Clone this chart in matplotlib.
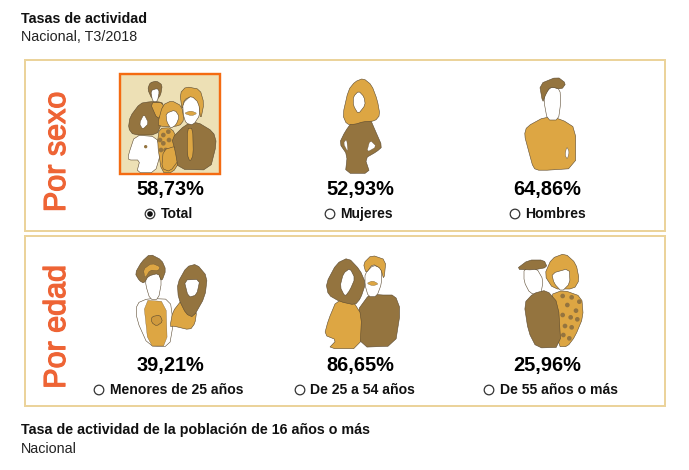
import matplotlib
matplotlib.use('Agg')
import matplotlib.pyplot as plt
import matplotlib.patheffects as pe
from matplotlib.patches import Polygon, Rectangle, Circle

plt.rcParams['font.family'] = ['Liberation Sans', 'DejaVu Sans']

# chart values
row_titles = ['Por sexo', 'Por edad']
sexo_labels = ['Total', 'Mujeres', 'Hombres']
sexo_values = [58.73, 52.93, 64.86]
edad_labels = ['Menores de 25 años', 'De 25 a 54 años', 'De 55 años o más']
edad_values = [39.21, 86.65, 25.96]

ORANGE = '#DDA643'
BROWN = '#94743F'
DARK = '#5A4930'
BORDER = '#EBD39B'
PX = 0.72  # px to pt at dpi 100

fig = plt.figure(figsize=(6.89, 4.70), dpi=100)
ax = fig.add_axes([0, 0, 1, 1])
ax.set_xlim(0, 689)
ax.set_ylim(470, 0)
ax.axis('off')


def smooth(pts, n=1):
    # chaikin corner cutting so the drawings are not too angular
    for _ in range(n):
        new = []
        for i in range(len(pts)):
            x0, y0 = pts[i]
            x1, y1 = pts[(i + 1) % len(pts)]
            new.append((0.8 * x0 + 0.2 * x1, 0.8 * y0 + 0.2 * y1))
            new.append((0.2 * x0 + 0.8 * x1, 0.2 * y0 + 0.8 * y1))
        pts = new
    return pts


def blob(org, pts, color, edge=None, lw=0.4, z=3):
    # pts are given in 3x crop coordinates relative to org
    xy = [(org[0] + x / 3, org[1] + y / 3) for x, y in smooth(pts)]
    ax.add_patch(Polygon(xy, closed=True, fc=color, ec=edge or DARK, lw=lw, zorder=z))


def dots(org, pts, r=7):
    for x, y in pts:
        ax.add_patch(Circle((org[0] + x / 3, org[1] + y / 3), r / 3, fc=BROWN, ec='none', zorder=6))


# frames
ax.add_patch(Rectangle((25, 60), 640, 171, fc='white', ec=BORDER, lw=2 * PX))
ax.add_patch(Rectangle((25, 236), 640, 170, fc='white', ec=BORDER, lw=2 * PX))

# header and footer
ax.text(21, 19, 'Tasas de actividad', fontsize=14.3 * PX, fontweight='bold', color='#111111', va='center')
ax.text(21, 37, 'Nacional, T3/2018', fontsize=14.3 * PX, color='#222222', va='center')
ax.text(21, 430, 'Tasa de actividad de la población de 16 años o más', fontsize=14.3 * PX,
        fontweight='bold', color='#111111', va='center')
ax.text(21, 449, 'Nacional', fontsize=14.3 * PX, color='#222222', va='center')

# row titles
for title, yc in zip(row_titles, [152, 327]):
    ax.text(57, yc, title, fontsize=30.5 * PX, color='#EE6435', rotation=90, ha='center', va='center',
            path_effects=[pe.withStroke(linewidth=0.9, foreground='#EE6435')])

# values and radio buttons
value_x = [170, 360, 547]
radio_x = [[150, 330, 515], [99, 300, 489]]
rows = [(sexo_values, sexo_labels, 190, 214), (edad_values, edad_labels, 366, 390)]
for r, (vals, labs, vy, ry) in enumerate(rows):
    for c in range(3):
        ax.text(value_x[c], vy, f'{vals[c]:.2f}%'.replace('.', ','), fontsize=20 * PX, fontweight='bold',
                color='#000000', ha='center', va='center')
        ax.add_patch(Circle((radio_x[r][c], ry), 4.8, fc='white', ec='#333333', lw=0.9, zorder=4))
        if r == 0 and c == 0:
            ax.add_patch(Circle((radio_x[r][c], ry), 2.8, fc='#111111', ec='none', zorder=5))
        ax.text(radio_x[r][c] + 10.5, ry, labs[c], fontsize=14 * PX, fontweight='bold',
                color='#111111', ha='left', va='center')

# selected picture
ax.add_patch(Rectangle((120, 74), 100, 100, fc='#EDE0B5', ec='#F46B12', lw=2.4 * PX, zorder=2))

# group picture
o = (100, 60)
blob(o, [(150, 125), (120, 130), (90, 170), (85, 205), (100, 225), (170, 225), (185, 190), (190, 130), (175, 125)], BROWN)
blob(o, [(150, 128), (190, 128), (188, 160), (172, 178)], ORANGE)
blob(o, [(132, 162), (146, 190), (128, 208), (118, 190)], 'white', lw=0.3, z=4)
blob(o, [(143, 88), (150, 68), (170, 63), (187, 75), (182, 105), (170, 120), (155, 115)], BROWN)
blob(o, [(152, 92), (172, 85), (178, 95), (172, 125), (158, 125)], 'white', z=4)
blob(o, [(105, 225), (170, 230), (182, 280), (165, 338), (110, 338), (120, 300), (85, 300), (85, 285)], 'white', z=4)
dots(o, [(137, 260)], r=5)
blob(o, [(172, 195), (188, 135), (215, 122), (245, 138), (252, 180), (238, 198), (190, 200)], ORANGE, z=5)
blob(o, [(198, 160), (225, 150), (238, 170), (228, 195), (212, 205), (200, 185)], 'white', z=5)
blob(o, [(178, 205), (215, 203), (238, 250), (242, 300), (218, 338), (185, 338), (172, 250)], ORANGE, z=5)
dots(o, [(190, 225), (205, 215), (190, 250), (207, 240), (180, 240), (197, 270), (183, 270)])
blob(o, [(190, 270), (228, 258), (240, 295), (210, 335), (185, 325)], ORANGE, z=6)
blob(o, [(215, 235), (255, 195), (290, 185), (340, 215), (350, 250), (330, 330), (235, 328), (225, 270)], BROWN, z=6)
blob(o, [(262, 205), (278, 205), (280, 285), (270, 305), (262, 285)], ORANGE, z=7)
blob(o, [(248, 130), (275, 105), (298, 125), (300, 165), (280, 195), (258, 190), (250, 165)], 'white', z=6)
blob(o, [(240, 100), (258, 80), (300, 88), (312, 130), (302, 180), (296, 128), (275, 108), (252, 120), (246, 150)], ORANGE, z=7)
blob(o, [(252, 160), (272, 152), (292, 160), (275, 168)], ORANGE, lw=0.2, z=7)

# woman
o = (320, 65)
blob(o, [(100, 165), (150, 160), (165, 195), (187, 245), (170, 260), (135, 280), (150, 325), (76, 325), (82, 270), (58, 235), (75, 200)], BROWN)
blob(o, [(68, 150), (85, 75), (105, 50), (130, 40), (155, 60), (172, 105), (180, 150), (165, 168), (130, 170), (105, 178), (80, 178)], ORANGE, z=4)
blob(o, [(116, 78), (132, 95), (136, 120), (115, 147), (100, 122), (100, 95)], 'white', z=5)
blob(o, [(80, 222), (84, 262), (70, 235)], 'white', lw=0.2, z=5)
blob(o, [(150, 225), (170, 245), (140, 262)], 'white', lw=0.2, z=5)

# man
o = (430, 60)
blob(o, [(290, 200), (345, 170), (395, 178), (437, 205), (437, 325), (330, 332), (310, 325), (295, 270), (283, 225)], ORANGE)
blob(o, [(410, 260), (418, 275), (412, 298), (405, 285)], 'white', lw=0.3, z=4)
blob(o, [(345, 100), (365, 80), (390, 88), (392, 130), (385, 180), (352, 180), (342, 125)], 'white', z=4)
blob(o, [(328, 72), (382, 50), (408, 70), (395, 88), (360, 80), (345, 108), (338, 128)], BROWN, z=5)

# young couple
o = (80, 240)
blob(o, [(170, 190), (205, 175), (270, 178), (280, 250), (268, 320), (205, 318), (170, 240)], 'white', z=3)
blob(o, [(190, 180), (258, 185), (262, 318), (205, 318)], ORANGE, lw=0.2, z=4)
blob(o, [(215, 230), (240, 225), (248, 245), (230, 258), (215, 248)], '#D09A3E', lw=0.4, z=5)
blob(o, [(198, 110), (235, 95), (245, 125), (235, 178), (210, 178), (197, 135)], 'white', z=4)
blob(o, [(165, 100), (185, 65), (210, 42), (245, 60), (258, 90), (245, 125), (235, 100), (205, 108), (192, 130), (178, 122)], BROWN, z=5)
blob(o, [(190, 88), (215, 70), (240, 80), (235, 92), (210, 90), (195, 115)], ORANGE, lw=0.2, z=6)
blob(o, [(270, 260), (278, 215), (305, 180), (340, 225), (350, 215), (345, 250), (330, 270), (280, 258)], ORANGE, z=3)
blob(o, [(292, 130), (320, 80), (350, 72), (382, 110), (375, 170), (340, 232), (318, 222), (295, 175)], BROWN, z=4)
blob(o, [(312, 120), (360, 118), (350, 165), (325, 172)], 'white', z=5)

# adult couple
blob(o, [(830, 215), (870, 160), (900, 165), (945, 165), (962, 210), (945, 318), (840, 322)], BROWN, z=3)
blob(o, [(855, 100), (880, 75), (905, 85), (905, 130), (890, 170), (865, 170), (855, 135)], 'white', z=4)
blob(o, [(850, 70), (875, 45), (918, 60), (912, 120), (902, 85), (878, 72), (858, 100)], ORANGE, z=5)
blob(o, [(860, 130), (878, 122), (896, 132), (878, 138)], ORANGE, lw=0.2, z=6)
blob(o, [(745, 240), (770, 180), (820, 185), (845, 225), (840, 326), (745, 326), (770, 300), (733, 285)], ORANGE, z=5)
blob(o, [(738, 130), (770, 70), (805, 53), (840, 90), (857, 130), (842, 175), (825, 195), (780, 185), (745, 165)], BROWN, z=6)
blob(o, [(790, 100), (810, 85), (825, 115), (810, 150), (795, 170), (780, 140)], 'white', z=7)

# older couple
o = (450, 240)
blob(o, [(300, 165), (340, 150), (395, 170), (400, 230), (375, 290), (352, 320), (325, 320)], ORANGE)
dots(o, [(338, 168), (365, 172), (388, 185), (352, 195), (378, 212), (338, 225), (362, 232), (382, 238), (345, 258), (365, 262), (340, 285), (358, 295)])
blob(o, [(222, 85), (260, 85), (280, 120), (272, 165), (240, 160), (222, 125)], 'white', z=3)
blob(o, [(222, 190), (250, 160), (290, 150), (325, 190), (333, 322), (260, 324), (235, 275)], BROWN, z=4)
blob(o, [(198, 88), (235, 60), (282, 60), (292, 82), (250, 90)], BROWN, z=5)
blob(o, [(283, 105), (305, 55), (345, 40), (378, 70), (388, 120), (372, 147), (310, 147)], ORANGE, z=5)
blob(o, [(305, 100), (358, 85), (360, 130), (335, 155), (312, 130)], 'white', z=6)

fig.savefig('out.png', dpi=100)
